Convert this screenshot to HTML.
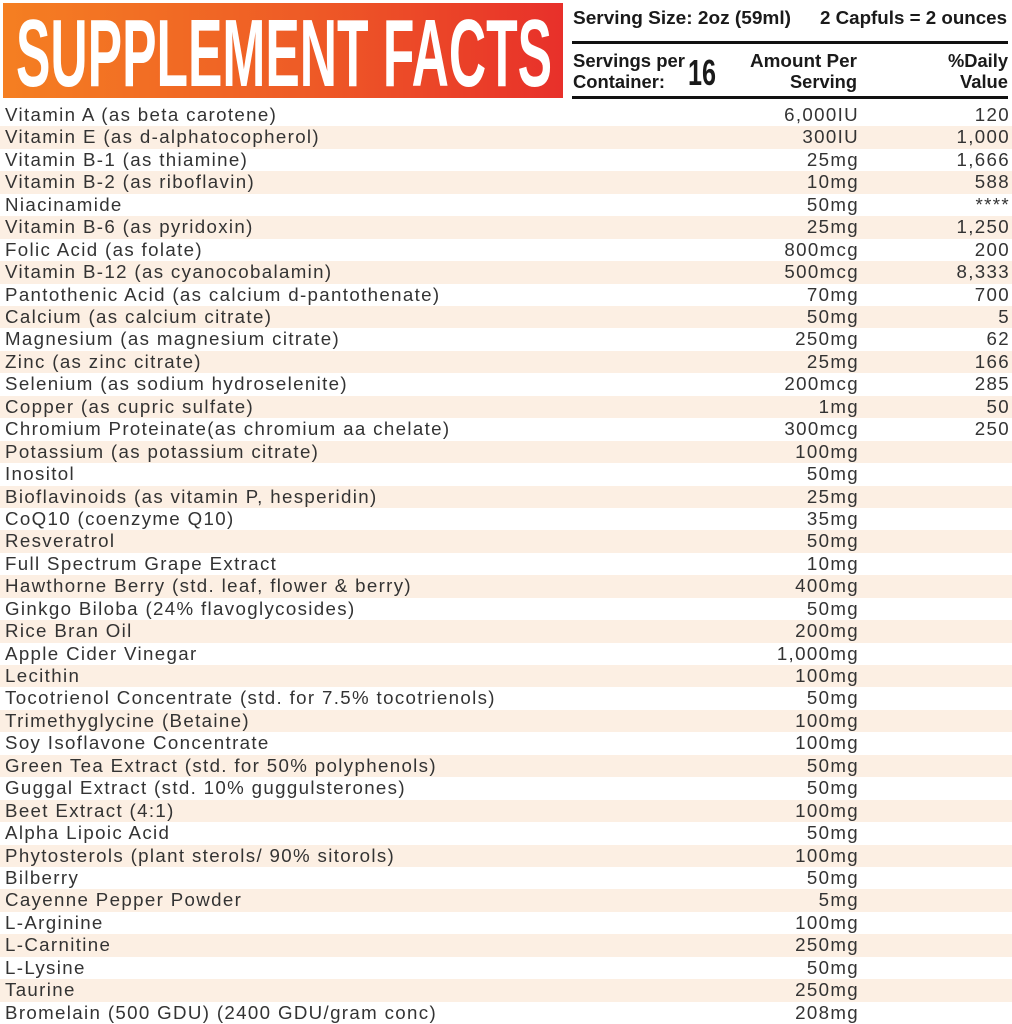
<!DOCTYPE html>
<html><head><meta charset="utf-8"><style>
*{margin:0;padding:0;box-sizing:border-box}
body{width:1012px;height:1024px;background:#fff;font-family:"Liberation Sans",sans-serif;position:relative;overflow:hidden;color:#333}
.line{position:absolute;left:572px;width:436px;height:3px;background:#111}
.row{position:absolute;left:0;width:1012px;height:22.44px;font-size:18.7px;line-height:22.44px;letter-spacing:1.35px}
.row.s{background:#fcefe3}
.row span{position:absolute;top:0;white-space:nowrap}
.n{left:5px}.a{right:153px}.d{right:2px}
</style></head><body>
<div style="position:absolute;left:3px;top:3px;width:560px;height:95px;background:linear-gradient(90deg,#f57f22,#ee5a26 55%,#e8302a)"></div>
<svg style="position:absolute;left:0;top:0" width="570" height="100"><text x="16" y="86" font-family="Liberation Sans" font-weight="bold" font-size="96" fill="#fff" textLength="536" lengthAdjust="spacingAndGlyphs">SUPPLEMENT FACTS</text></svg>
<svg style="position:absolute;left:570px;top:0" width="442" height="100" font-family="Liberation Sans" font-weight="bold" fill="#1a1a1a">
<text x="3" y="24" font-size="18" textLength="218" lengthAdjust="spacingAndGlyphs">Serving Size: 2oz (59ml)</text>
<text x="250" y="24" font-size="18" textLength="187" lengthAdjust="spacingAndGlyphs">2 Capfuls = 2 ounces</text>
<text x="3" y="67" font-size="18" textLength="112" lengthAdjust="spacingAndGlyphs">Servings per</text>
<text x="3" y="88" font-size="18" textLength="92" lengthAdjust="spacingAndGlyphs">Container:</text>
<text x="118" y="85" font-size="36" textLength="28" lengthAdjust="spacingAndGlyphs">16</text>
<text x="180" y="67" font-size="18" textLength="107" lengthAdjust="spacingAndGlyphs">Amount Per</text>
<text x="220" y="88" font-size="18" textLength="67" lengthAdjust="spacingAndGlyphs">Serving</text>
<text x="378" y="67" font-size="18" textLength="60" lengthAdjust="spacingAndGlyphs">%Daily</text>
<text x="390" y="88" font-size="18" textLength="48" lengthAdjust="spacingAndGlyphs">Value</text>
</svg>
<div class="line" style="top:41px"></div>
<div class="line" style="top:96px"></div>
<div class="row" style="top:104.0px"><span class="n">Vitamin A (as beta carotene)</span><span class="a">6,000IU</span><span class="d">120</span></div>
<div class="row s" style="top:126.4px"><span class="n">Vitamin E (as d-alphatocopherol)</span><span class="a">300IU</span><span class="d">1,000</span></div>
<div class="row" style="top:148.9px"><span class="n">Vitamin B-1 (as thiamine)</span><span class="a">25mg</span><span class="d">1,666</span></div>
<div class="row s" style="top:171.3px"><span class="n">Vitamin B-2 (as riboflavin)</span><span class="a">10mg</span><span class="d">588</span></div>
<div class="row" style="top:193.8px"><span class="n">Niacinamide</span><span class="a">50mg</span><span class="d">****</span></div>
<div class="row s" style="top:216.2px"><span class="n">Vitamin B-6 (as pyridoxin)</span><span class="a">25mg</span><span class="d">1,250</span></div>
<div class="row" style="top:238.6px"><span class="n">Folic Acid (as folate)</span><span class="a">800mcg</span><span class="d">200</span></div>
<div class="row s" style="top:261.1px"><span class="n">Vitamin B-12 (as cyanocobalamin)</span><span class="a">500mcg</span><span class="d">8,333</span></div>
<div class="row" style="top:283.5px"><span class="n">Pantothenic Acid (as calcium d-pantothenate)</span><span class="a">70mg</span><span class="d">700</span></div>
<div class="row s" style="top:306.0px"><span class="n">Calcium (as calcium citrate)</span><span class="a">50mg</span><span class="d">5</span></div>
<div class="row" style="top:328.4px"><span class="n">Magnesium (as magnesium citrate)</span><span class="a">250mg</span><span class="d">62</span></div>
<div class="row s" style="top:350.8px"><span class="n">Zinc (as zinc citrate)</span><span class="a">25mg</span><span class="d">166</span></div>
<div class="row" style="top:373.3px"><span class="n">Selenium (as sodium hydroselenite)</span><span class="a">200mcg</span><span class="d">285</span></div>
<div class="row s" style="top:395.7px"><span class="n">Copper (as cupric sulfate)</span><span class="a">1mg</span><span class="d">50</span></div>
<div class="row" style="top:418.2px"><span class="n">Chromium Proteinate(as chromium aa chelate)</span><span class="a">300mcg</span><span class="d">250</span></div>
<div class="row s" style="top:440.6px"><span class="n">Potassium (as potassium citrate)</span><span class="a">100mg</span></div>
<div class="row" style="top:463.0px"><span class="n">Inositol</span><span class="a">50mg</span></div>
<div class="row s" style="top:485.5px"><span class="n">Bioflavinoids (as vitamin P, hesperidin)</span><span class="a">25mg</span></div>
<div class="row" style="top:507.9px"><span class="n">CoQ10 (coenzyme Q10)</span><span class="a">35mg</span></div>
<div class="row s" style="top:530.4px"><span class="n">Resveratrol</span><span class="a">50mg</span></div>
<div class="row" style="top:552.8px"><span class="n">Full Spectrum Grape Extract</span><span class="a">10mg</span></div>
<div class="row s" style="top:575.2px"><span class="n">Hawthorne Berry (std. leaf, flower &amp; berry)</span><span class="a">400mg</span></div>
<div class="row" style="top:597.7px"><span class="n">Ginkgo Biloba (24% flavoglycosides)</span><span class="a">50mg</span></div>
<div class="row s" style="top:620.1px"><span class="n">Rice Bran Oil</span><span class="a">200mg</span></div>
<div class="row" style="top:642.6px"><span class="n">Apple Cider Vinegar</span><span class="a">1,000mg</span></div>
<div class="row s" style="top:665.0px"><span class="n">Lecithin</span><span class="a">100mg</span></div>
<div class="row" style="top:687.4px"><span class="n">Tocotrienol Concentrate (std. for 7.5% tocotrienols)</span><span class="a">50mg</span></div>
<div class="row s" style="top:709.9px"><span class="n">Trimethyglycine (Betaine)</span><span class="a">100mg</span></div>
<div class="row" style="top:732.3px"><span class="n">Soy Isoflavone Concentrate</span><span class="a">100mg</span></div>
<div class="row s" style="top:754.8px"><span class="n">Green Tea Extract (std. for 50% polyphenols)</span><span class="a">50mg</span></div>
<div class="row" style="top:777.2px"><span class="n">Guggal Extract (std. 10% guggulsterones)</span><span class="a">50mg</span></div>
<div class="row s" style="top:799.6px"><span class="n">Beet Extract (4:1)</span><span class="a">100mg</span></div>
<div class="row" style="top:822.1px"><span class="n">Alpha Lipoic Acid</span><span class="a">50mg</span></div>
<div class="row s" style="top:844.5px"><span class="n">Phytosterols (plant sterols/ 90% sitorols)</span><span class="a">100mg</span></div>
<div class="row" style="top:867.0px"><span class="n">Bilberry</span><span class="a">50mg</span></div>
<div class="row s" style="top:889.4px"><span class="n">Cayenne Pepper Powder</span><span class="a">5mg</span></div>
<div class="row" style="top:911.8px"><span class="n">L-Arginine</span><span class="a">100mg</span></div>
<div class="row s" style="top:934.3px"><span class="n">L-Carnitine</span><span class="a">250mg</span></div>
<div class="row" style="top:956.7px"><span class="n">L-Lysine</span><span class="a">50mg</span></div>
<div class="row s" style="top:979.2px"><span class="n">Taurine</span><span class="a">250mg</span></div>
<div class="row" style="top:1001.6px"><span class="n">Bromelain (500 GDU) (2400 GDU/gram conc)</span><span class="a">208mg</span></div>
</body></html>
